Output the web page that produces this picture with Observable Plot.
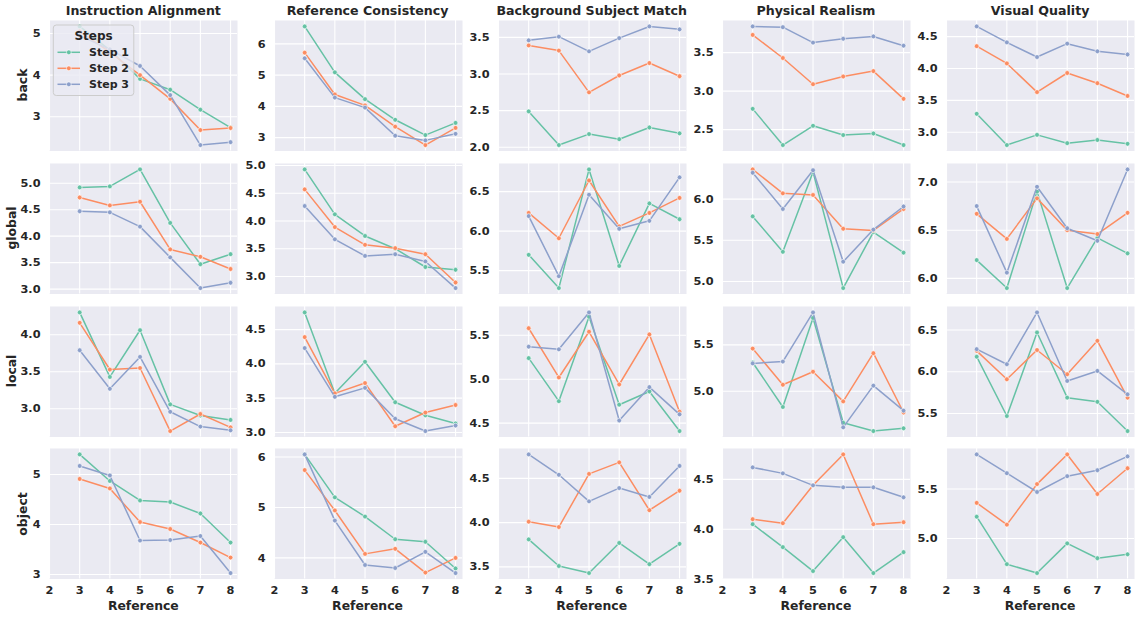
<!DOCTYPE html>
<html><head><meta charset="utf-8">
<script src="https://cdn.jsdelivr.net/npm/d3@7"></script>
<script src="https://cdn.jsdelivr.net/npm/@observablehq/plot@0.6"></script>
<style>
body{margin:0;background:#fff;font-family:"DejaVu Sans",sans-serif;}
#fig{position:relative;width:1141px;height:619px;overflow:hidden;background:#fff;}
.lbl{position:absolute;font-weight:bold;color:#262626;white-space:nowrap;transform:translate(-50%,-50%);line-height:1;}
.rot{transform:translate(-50%,-50%) rotate(-90deg);}
svg.panel{position:absolute;overflow:visible;}
</style></head><body><div id="fig"></div>
<script>
// ---------- data ----------
const references = [3, 4, 5, 6, 7, 8];
const xTicks = [2, 3, 4, 5, 6, 7, 8];
const steps = ["Step 1", "Step 2", "Step 3"];
const stepColors = ["#66c2a5", "#fc8d62", "#8da0cb"];
const metrics = ["Instruction Alignment", "Reference Consistency", "Background Subject Match", "Physical Realism", "Visual Quality"];
const groups = ["back", "global", "local", "object"];

// each array: [Step 1, Step 2, Step 3], values at references 3..8
const back_IA  = [[5.17,4.60,3.91,3.65,3.17,2.74],[5.05,4.55,4.00,3.43,2.68,2.73],[4.95,4.62,4.22,3.52,2.32,2.39]];
const back_RC  = [[6.56,5.09,4.23,3.57,3.08,3.47],[5.72,4.38,4.03,3.35,2.76,3.31],[5.54,4.28,3.96,3.06,2.91,3.12]];
const back_BSM = [[2.49,2.03,2.18,2.11,2.27,2.19],[3.39,3.32,2.75,2.98,3.15,2.97],[3.46,3.51,3.31,3.49,3.65,3.61]];
const back_PR  = [[2.77,2.30,2.55,2.43,2.45,2.30],[3.73,3.43,3.09,3.19,3.26,2.90],[3.84,3.83,3.63,3.68,3.71,3.59]];
const back_VQ  = [[3.29,2.80,2.96,2.83,2.88,2.82],[4.35,4.08,3.63,3.93,3.77,3.57],[4.66,4.41,4.18,4.39,4.27,4.22]];

const global_IA  = [[4.92,4.94,5.26,4.25,3.47,3.66],[4.73,4.58,4.65,3.75,3.61,3.38],[4.47,4.45,4.18,3.60,3.02,3.12]];
const global_RC  = [[4.93,4.12,3.73,3.50,3.17,3.12],[4.57,3.89,3.57,3.51,3.40,2.89],[4.27,3.67,3.37,3.40,3.27,2.79]];
const global_BSM = [[5.70,5.28,6.78,5.56,6.35,6.15],[6.23,5.91,6.64,6.06,6.23,6.42],[6.19,5.43,6.46,6.03,6.13,6.68]];
const global_PR  = [[5.79,5.36,6.33,4.92,5.60,5.35],[6.36,6.07,6.05,5.64,5.62,5.88],[6.32,5.88,6.35,5.24,5.63,5.91]];
const global_VQ  = [[6.19,5.90,6.90,5.90,6.42,6.26],[6.67,6.41,6.83,6.50,6.46,6.68],[6.75,6.06,6.95,6.52,6.39,7.13]];

const local_IA  = [[4.30,3.43,4.06,3.06,2.91,2.85],[4.16,3.53,3.55,2.70,2.93,2.75],[3.79,3.27,3.70,2.96,2.76,2.71]];
const local_RC  = [[4.75,3.57,4.03,3.44,3.25,3.13],[4.39,3.57,3.72,3.09,3.29,3.40],[4.23,3.52,3.65,3.20,3.02,3.10]];
const local_BSM = [[5.24,4.75,5.71,4.71,4.86,4.41],[5.58,5.02,5.54,4.94,5.51,4.63],[5.37,5.34,5.76,4.53,4.91,4.60]];
const local_PR  = [[5.31,4.83,5.79,4.66,4.57,4.60],[5.46,5.07,5.21,4.89,5.41,4.77],[5.30,5.32,5.85,4.61,5.06,4.79]];
const local_VQ  = [[6.18,5.47,6.47,5.69,5.64,5.29],[6.25,5.91,6.26,5.97,6.37,5.69],[6.27,6.09,6.71,5.89,6.01,5.73]];

const object_IA  = [[5.40,4.87,4.48,4.45,4.22,3.64],[4.91,4.72,4.05,3.91,3.64,3.34],[5.17,4.98,3.68,3.69,3.77,3.03]];
const object_RC  = [[6.05,5.20,4.82,4.37,4.32,3.79],[5.74,4.94,4.08,4.18,3.71,4.00],[6.05,4.74,3.86,3.80,4.12,3.70]];
const object_BSM = [[3.81,3.51,3.43,3.77,3.53,3.76],[4.01,3.95,4.55,4.68,4.14,4.36],[4.77,4.54,4.24,4.39,4.29,4.64]];
const object_PR  = [[4.05,3.82,3.58,3.92,3.56,3.77],[4.10,4.06,4.44,4.75,4.05,4.07],[4.62,4.56,4.44,4.42,4.42,4.32]];
const object_VQ  = [[5.22,4.74,4.65,4.95,4.80,4.84],[5.36,5.14,5.55,5.85,5.45,5.71],[5.85,5.66,5.47,5.63,5.69,5.83]];

// y tick labels per panel
const yTicks_back   = [[3,4,5],[3,4,5,6],[2,2.5,3,3.5],[2.5,3,3.5],[3,3.5,4,4.5]];
const yTicks_global = [[3,3.5,4,4.5,5],[3,3.5,4,4.5,5],[5.5,6,6.5],[5,5.5,6],[6,6.5,7]];
const yTicks_local  = [[3,3.5,4],[3,3.5,4,4.5],[4.5,5,5.5],[5,5.5],[5.5,6,6.5]];
const yTicks_object = [[3,4,5],[4,5,6],[3.5,4,4.5],[3.5,4,4.5],[5,5.5]];

const panelValues = [
  [back_IA, back_RC, back_BSM, back_PR, back_VQ],
  [global_IA, global_RC, global_BSM, global_PR, global_VQ],
  [local_IA, local_RC, local_BSM, local_PR, local_VQ],
  [object_IA, object_RC, object_BSM, object_PR, object_VQ]
];
const panelTicks = [yTicks_back, yTicks_global, yTicks_local, yTicks_object];

// ---------- layout ----------
const fig = document.getElementById("fig");
const PW = 188, PH = 130.5;
const colLeft = c => 49.3 + c * 224.2;
const rowTop = r => 20 + r * 142.8;
const FONT = "DejaVu Sans";
const TXT = "#262626";

for (let r = 0; r < 4; r++) {
  for (let c = 0; c < 5; c++) {
    const vals = panelValues[r][c];
    const ticks = panelTicks[r][c];
    const all = vals.flat();
    const mn = d3.min(all), mx = d3.max(all), pad = (mx - mn) * 0.05;
    const intTicks = ticks.every(t => Number.isInteger(t));
    const fmt = intTicks ? d3.format("d") : d3.format(".1f");
    const ml = 45, mr = 6, mt = 4, mb = r === 3 ? 40 : 4;
    const marks = [
      Plot.frame({fill: "#eaeaf2", stroke: "none"}),
      Plot.gridX(xTicks, {stroke: "white", strokeOpacity: 1, strokeWidth: 1.1}),
      Plot.gridY(ticks, {stroke: "white", strokeOpacity: 1, strokeWidth: 1.1}),
      Plot.axisY(ticks, {tickSize: 0, tickPadding: 9, tickFormat: fmt, fontSize: 11.3, fontWeight: "bold", fill: TXT, label: null})
    ];
    if (r === 3) marks.push(Plot.axisX(xTicks, {tickSize: 0, tickPadding: 7, tickFormat: d3.format("d"), fontSize: 11.3, fontWeight: "bold", fill: TXT, label: null}));
    vals.forEach((series, s) => {
      const rows = references.map((ref, i) => ({ref, value: series[i], step: steps[s]}));
      marks.push(Plot.line(rows, {x: "ref", y: "value", stroke: stepColors[s], strokeWidth: 1.5}));
      marks.push(Plot.dot(rows, {x: "ref", y: "value", r: 2.4, fill: stepColors[s], stroke: "white", strokeWidth: 0.6}));
    });
    const svg = Plot.plot({
      width: ml + PW + mr, height: mt + PH + mb,
      marginLeft: ml, marginRight: mr, marginTop: mt, marginBottom: mb,
      style: {fontFamily: FONT, background: "transparent", overflow: "visible"},
      x: {domain: [2, 8.23], axis: r === 3 ? undefined : null, label: null},
      y: {domain: [mn - pad, mx + pad], label: null},
      marks
    });
    svg.classList.add("panel");
    svg.style.left = (colLeft(c) - ml) + "px";
    svg.style.top = (rowTop(r) - mt) + "px";
    fig.appendChild(svg);

    if (c === 0) {
      const d = document.createElement("div");
      d.className = "lbl rot";
      d.textContent = groups[r];
      d.style.fontSize = "12.4px";
      d.style.left = (intTicks ? 23.3 : 11.8) + "px";
      d.style.top = (rowTop(r) + PH / 2) + "px";
      fig.appendChild(d);
    }
  }
}
for (let c = 0; c < 5; c++) {
  const t = document.createElement("div");
  t.className = "lbl";
  t.textContent = metrics[c];
  t.style.fontSize = "12.6px";
  t.style.left = (colLeft(c) + PW / 2) + "px";
  t.style.top = "11px";
  fig.appendChild(t);
  const x = document.createElement("div");
  x.className = "lbl";
  x.textContent = "Reference";
  x.style.fontSize = "12.4px";
  x.style.left = (colLeft(c) + PW / 2) + "px";
  x.style.top = "606px";
  fig.appendChild(x);
}

// ---------- legend ----------
const leg = d3.select(fig).append("svg")
  .attr("width", 84).attr("height", 74)
  .style("position", "absolute").style("left", "52px").style("top", "24px")
  .style("font-family", FONT).style("font-weight", "bold");
leg.append("rect").attr("x", 1.3).attr("y", 1).attr("width", 80.5).attr("height", 70.5).attr("rx", 3)
  .attr("fill", "#eaeaf2").attr("fill-opacity", 0.8).attr("stroke", "#cccccc").attr("stroke-width", 1);
leg.append("text").attr("x", 41.5).attr("y", 15.5).attr("text-anchor", "middle")
  .attr("font-size", 12).attr("fill", TXT).text("Steps");
steps.forEach((s, i) => {
  const y = 28.3 + i * 16;
  leg.append("line").attr("x1", 5.5).attr("x2", 28).attr("y1", y).attr("y2", y)
    .attr("stroke", stepColors[i]).attr("stroke-width", 1.5);
  leg.append("circle").attr("cx", 16.8).attr("cy", y).attr("r", 2.4)
    .attr("fill", stepColors[i]).attr("stroke", "white").attr("stroke-width", 0.6);
  leg.append("text").attr("x", 37).attr("y", y + 4).attr("font-size", 11).attr("fill", TXT).text(s);
});
</script></body></html>
